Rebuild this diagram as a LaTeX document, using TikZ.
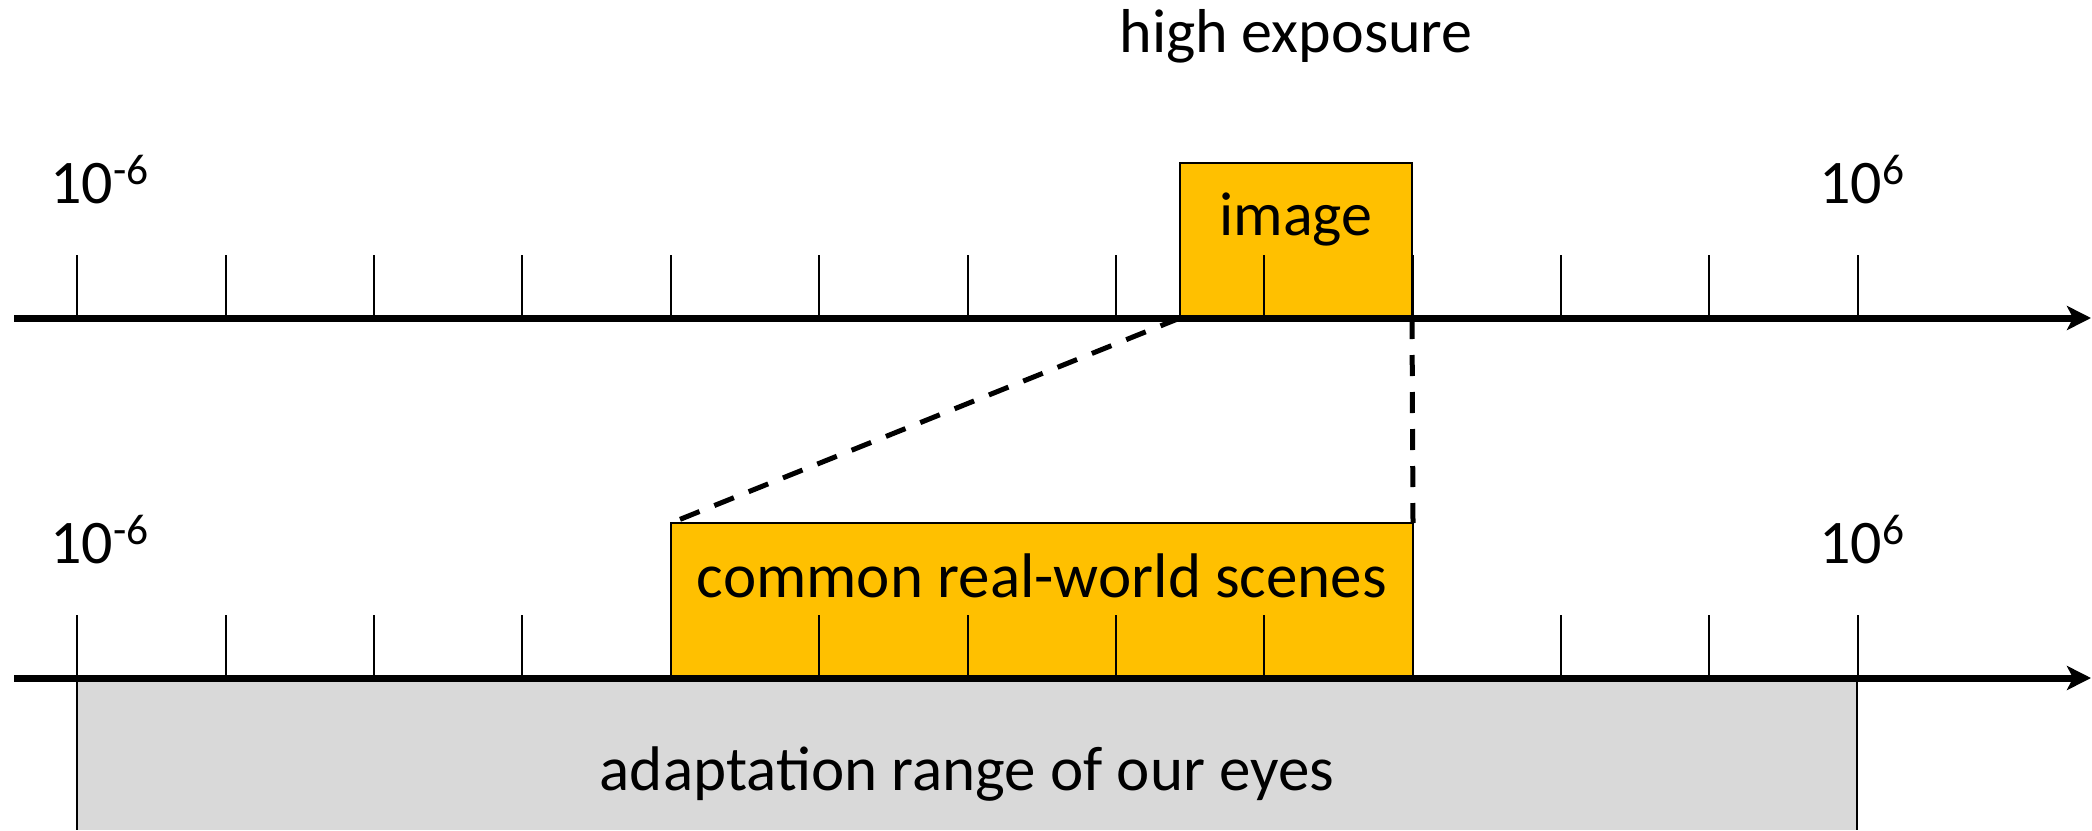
\documentclass[tikz,border=0pt]{standalone}
\usepackage{fontspec}
\setmainfont{Carlito}
\usetikzlibrary{arrows.meta}
\definecolor{boxyellow}{HTML}{FFC000}
\definecolor{rangegray}{HTML}{D9D9D9}
\tikzset{
  axisline/.style={line width=3.5pt,-{Stealth[length=12pt,width=12pt,inset=3pt]}},
  tickline/.style={line width=1pt},
  yellowbox/.style={fill=boxyellow,draw=black,line width=1pt},
  zoomline/.style={line width=2.5pt,dash pattern=on 10.5pt off 8pt},
  lbl/.style={inner sep=0pt,anchor=base,font=\fontsize{31}{37}\selectfont},
  lblbig/.style={inner sep=0pt,anchor=base,font=\fontsize{31.5}{37}\selectfont},
  lblw/.style={inner sep=0pt,anchor=base west,font=\fontsize{31}{37}\selectfont}
}
\begin{document}
\begin{tikzpicture}[x=0.5pt,y=-0.5pt]
\useasboundingbox (0,0) rectangle (2092,830);
% gray adaptation range
\fill[rangegray] (77,678) rectangle (1857,830);
\draw[tickline] (77,678) -- (77,830);
\draw[tickline] (1857,678) -- (1857,830);
% yellow boxes
\coordinate (imgTL) at (1180,163);
\coordinate (imgBR) at (1412,318);
\coordinate (imgBL) at (1180,318);
\draw[yellowbox] (imgTL) rectangle (imgBR);
\coordinate (scTL) at (671,523);
\coordinate (scBR) at (1413,678);
\coordinate (scTR) at (1413,523);
\draw[yellowbox] (scTL) rectangle (scBR);
% ticks
\foreach \k in {0,...,12}{
  \draw[tickline] ({77.3+\k*148.37},255) -- ({77.3+\k*148.37},318);
  \draw[tickline] ({77.3+\k*148.37},615) -- ({77.3+\k*148.37},678);
}
% axes
\coordinate (a1s) at (14,318);
\coordinate (a1e) at (2091,318);
\coordinate (a2s) at (14,678);
\coordinate (a2e) at (2091,678);
\draw[axisline] (a1s) -- (a1e);
\draw[axisline] (a2s) -- (a2e);
% zoom connectors
\draw[zoomline] (imgBL) -- (scTL);
\draw[zoomline] (imgBR) -- (scTR);
% labels
\node[lbl] (hexp) at (1296,52) {high exposure};
\node[lbl] (img) at (1296,235) {image};
\node[lblbig] (scenes) at (1042,597) {common real-world scenes};
\node[lblbig] (adapt) at (967,790) {adaptation range of our eyes};
\node[lblw] (tmin) at (50,203) {10\textsuperscript{-6}};
\node[lblw] (tmax) at (1819,203) {10\textsuperscript{6}};
\node[lblw] (bmin) at (50,563) {10\textsuperscript{-6}};
\node[lblw] (bmax) at (1819,563) {10\textsuperscript{6}};
\end{tikzpicture}
\end{document}
